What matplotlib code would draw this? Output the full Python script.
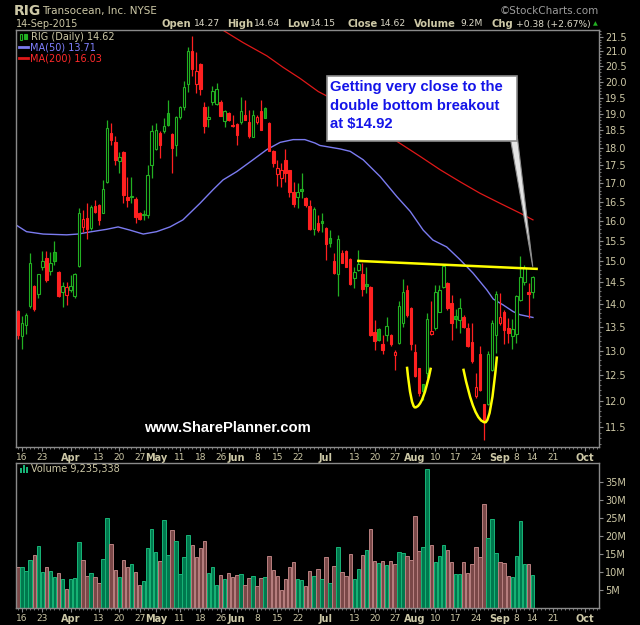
import numpy as np
import matplotlib
matplotlib.use("Agg")
import matplotlib.pyplot as plt
from matplotlib.patches import Rectangle, Polygon, PathPatch
from matplotlib.path import Path
from matplotlib.lines import Line2D
from matplotlib.ticker import FixedLocator, FuncFormatter, NullFormatter

W, H = 640, 625

# ---- RIG daily, 13-Mar-2015 .. 14-Sep-2015 ----
opens = [13.85, 13.30, 13.55, 13.97, 14.42, 14.23, 14.86, 15.09, 14.78, 15.22,
         14.75, 14.29, 14.21, 14.33, 14.20, 14.89, 15.84, 16.07, 15.81, 16.39,
         16.42, 16.22, 17.02, 18.41, 18.15, 17.62, 17.88, 16.63, 16.64, 16.57,
         16.22, 16.16, 16.16, 17.50, 17.96, 18.42, 18.47, 19.02, 18.40, 18.08,
         18.90, 19.21, 19.94, 21.02, 19.94, 20.58, 19.21, 18.84, 19.35, 19.31,
         19.35, 18.78, 19.02, 18.67, 18.70, 18.74, 18.97, 18.76, 18.32, 18.74,
         19.10, 19.18, 18.72, 17.91, 17.25, 17.13, 17.63, 17.35, 16.75, 16.62,
         16.84, 16.61, 16.39, 15.79, 15.94, 16.00, 15.83, 15.58, 15.01, 14.69,
         15.19, 15.25, 15.05, 14.60, 14.80, 14.69, 14.46, 14.40, 13.39, 13.45,
         13.13, 13.32, 13.34, 12.90, 13.16, 13.59, 14.33, 13.93, 12.98, 12.64,
         12.32, 12.54, 13.36, 13.48, 13.84, 14.40, 14.48, 14.04, 13.74, 13.66,
         13.73, 13.49, 13.18, 12.08, 12.94, 11.94, 11.94, 12.61, 13.32, 13.58,
         13.84, 13.49, 13.30, 13.36, 14.10, 14.52, 14.28, 14.27]
highs = [13.87, 13.74, 13.80, 15.21, 14.45, 14.71, 15.26, 15.26, 15.23, 15.49,
         14.76, 14.52, 14.50, 14.68, 14.73, 16.33, 16.29, 16.46, 16.42, 16.54,
         16.44, 17.09, 18.82, 18.72, 18.34, 17.86, 17.89, 17.18, 17.18, 16.64,
         16.24, 16.29, 17.50, 18.67, 18.72, 18.47, 18.87, 19.41, 18.42, 18.92,
         19.23, 20.01, 21.16, 21.52, 20.99, 20.60, 19.35, 19.25, 19.85, 19.96,
         19.41, 19.12, 19.05, 18.97, 18.72, 19.51, 19.41, 19.12, 19.12, 18.97,
         19.41, 19.21, 18.74, 17.92, 17.63, 17.57, 17.96, 17.37, 17.02, 17.00,
         17.29, 16.62, 16.54, 16.37, 16.15, 16.22, 15.84, 15.77, 15.21, 15.64,
         15.28, 15.28, 15.07, 14.87, 15.28, 14.95, 14.87, 14.41, 13.66, 13.48,
         13.34, 13.71, 13.35, 13.02, 14.07, 14.58, 14.45, 13.95, 13.13, 12.64,
         12.33, 13.80, 14.07, 14.45, 14.45, 14.91, 14.50, 14.22, 13.89, 14.14,
         13.76, 13.58, 13.58, 12.54, 13.09, 11.94, 12.99, 13.66, 14.31, 14.25,
         13.88, 13.69, 13.67, 14.22, 15.13, 14.92, 14.48, 14.64]
lows = [13.25, 13.03, 13.36, 13.91, 13.86, 14.14, 14.80, 14.52, 14.68, 14.91,
        14.16, 13.94, 13.99, 14.27, 14.14, 14.87, 15.73, 15.54, 15.77, 16.22,
        15.89, 16.20, 17.00, 18.08, 17.50, 17.27, 16.48, 16.37, 16.46, 15.94,
        16.03, 16.03, 16.07, 17.13, 17.92, 17.70, 18.42, 18.62, 17.27, 17.75,
        18.85, 19.12, 19.69, 20.17, 19.63, 19.58, 18.42, 18.60, 19.28, 19.28,
        18.92, 18.60, 18.78, 18.60, 18.08, 18.70, 18.80, 18.27, 18.32, 18.70,
        18.50, 18.86, 17.89, 17.46, 16.93, 16.91, 17.04, 16.64, 16.36, 16.33,
        16.60, 16.37, 15.77, 15.64, 15.73, 15.73, 15.03, 15.36, 14.71, 14.18,
        14.95, 14.86, 14.45, 14.37, 14.78, 14.18, 14.25, 13.30, 13.01, 13.20,
        12.92, 13.20, 13.10, 12.61, 13.13, 13.51, 13.73, 13.02, 12.46, 12.08,
        12.02, 12.44, 13.34, 13.44, 13.82, 14.37, 13.88, 13.23, 13.48, 13.37,
        13.48, 13.08, 12.74, 12.05, 12.18, 11.26, 11.92, 12.59, 12.95, 13.55,
        13.13, 13.16, 13.03, 13.17, 14.07, 14.45, 13.69, 14.15]
closes = [13.34, 13.59, 13.76, 14.95, 13.89, 14.69, 15.01, 14.55, 14.95, 15.01,
          14.20, 14.42, 14.39, 14.42, 14.69, 16.22, 16.04, 15.79, 16.36, 16.24,
          16.03, 16.84, 18.56, 18.23, 17.63, 17.72, 16.69, 16.54, 16.66, 16.10,
          16.06, 16.18, 17.23, 18.49, 18.50, 18.08, 18.64, 18.66, 17.98, 18.90,
          19.21, 19.83, 21.02, 20.40, 20.35, 19.77, 18.62, 18.90, 19.72, 19.77,
          18.94, 19.08, 18.80, 18.62, 18.37, 19.08, 18.82, 18.34, 18.96, 18.90,
          18.52, 18.87, 17.91, 17.57, 17.41, 17.37, 17.27, 16.77, 16.45, 16.77,
          16.79, 16.42, 15.79, 16.30, 15.76, 15.94, 15.42, 15.45, 14.73, 15.54,
          14.97, 14.87, 14.46, 14.74, 14.93, 14.35, 14.42, 13.34, 13.21, 13.23,
          13.02, 13.52, 13.13, 12.97, 13.97, 14.29, 13.76, 13.13, 12.48, 12.15,
          12.18, 13.67, 13.41, 14.29, 14.33, 14.89, 13.91, 13.58, 13.68, 13.91,
          13.50, 13.09, 12.78, 12.27, 12.21, 11.60, 12.94, 13.58, 14.23, 13.71,
          13.43, 13.37, 13.45, 14.20, 14.63, 14.85, 14.24, 14.62]
# G = close up from previous close, R = down
trend = ("RGGGRGGRGG" "RGRGGGRRGR" "RGGRRGRRGR" "RGGGGRGGRG" "GGGRRRRGGG"
         "RGRRRGRRGR" "RGRRRRRRRG" "GRRGRGRGRG" "RRRGGRGRRG" "RGRRGGRRRR"
         "GGRGGGRRGG" "RRRRRRGGGR" "RRGGGGRG")
volume_m = [11.3, 11.5, 10.2, 13.4, 14.8, 17.3, 10.1, 11.5, 10.4, 8.7,
            9.8, 8.0, 5.4, 8.1, 8.4, 18.4, 13.4, 9.0, 9.8, 8.7,
            7.0, 13.7, 25.1, 17.9, 10.5, 8.7, 13.4, 11.5, 12.3, 10.1,
            6.5, 7.6, 16.8, 22.0, 15.6, 13.1, 24.5, 14.8, 21.8, 18.7,
            9.5, 14.3, 20.4, 17.6, 14.3, 16.8, 18.7, 9.8, 11.5, 6.5,
            9.3, 8.1, 9.8, 8.7, 9.3, 9.5, 6.5, 8.4, 9.0, 6.2,
            8.4, 8.7, 14.5, 10.6, 9.0, 5.1, 8.1, 11.5, 12.9, 8.1,
            7.9, 6.2, 10.4, 9.0, 10.9, 8.1, 14.3, 7.0, 11.8, 17.0,
            10.1, 9.0, 15.1, 8.1, 10.9, 14.8, 16.2, 22.0, 13.1, 12.6,
            13.1, 12.0, 13.1, 12.3, 15.6, 15.4, 14.5, 13.4, 25.6, 15.9,
            17.0, 38.7, 17.6, 12.9, 14.5, 17.6, 16.2, 12.9, 9.5, 9.5,
            12.9, 9.8, 12.3, 17.0, 14.3, 29.0, 19.5, 24.8, 15.4, 12.9,
            12.6, 9.0, 8.7, 14.5, 24.3, 12.3, 12.3, 9.24]

ma50_idx = [-0.5, 2.1, 6.2, 12.0, 14.8, 18.2, 21.9, 24.7, 27.6, 30.9, 34.2, 37.5,
            40.7, 44.9, 48.1, 50.6, 54.0, 58.0, 61.4, 64.7, 67.9, 70.8, 73.3, 74.5,
            79.5, 82.0, 85.2, 89.4, 93.5, 96.8, 100.0, 102.4, 105.8, 109.1, 112.3,
            115.7, 117.3, 119.7, 122.2, 123.9, 127.1]
ma50_val = [15.90, 15.73, 15.67, 15.65, 15.67, 15.73, 15.79, 15.85, 15.77, 15.67, 15.73, 15.85,
            16.03, 16.46, 16.82, 17.09, 17.32, 17.65, 17.94, 18.15, 18.23, 18.23, 18.13, 18.06,
            17.96, 17.89, 17.65, 17.18, 16.64, 16.25, 15.77, 15.52, 15.35, 15.04, 14.72,
            14.33, 14.12, 13.99, 13.84, 13.77, 13.71]
ma200_idx = [50.5, 55.5, 61.4, 65.4, 69.6, 74.1, 76.2, 94.3, 99.2, 104.2, 109.1, 114.0, 119.0, 124.0, 127.1]
ma200_val = [21.73, 21.30, 20.85, 20.47, 20.11, 19.69, 19.55, 18.12, 17.75, 17.37, 17.04, 16.73, 16.46, 16.20, 16.03]

tick_idx = [1, 6, 13, 20, 25, 30, 34, 40, 45, 50, 54, 59, 64, 69, 76, 83, 88, 93,
            98, 103, 108, 113, 119, 123, 127, 132, 140]
tick_lbl = ["16", "23", "Apr", "13", "20", "27", "May", "11", "18", "26", "Jun", "8", "15", "22",
            "Jul", "13", "20", "27", "Aug", "10", "17", "24", "Sep", "8", "14", "21", "Oct"]
price_ticks = [11.5, 12.0, 12.5, 13.0, 13.5, 14.0, 14.5, 15.0, 15.5, 16.0, 16.5, 17.0,
               17.5, 18.0, 18.5, 19.0, 19.5, 20.0, 20.5, 21.0, 21.5]
vol_ticks = [5, 10, 15, 20, 25, 30, 35]

# hand drawn marks on the chart
neck_idx = [84.0, 128.0]
neck_val = [15.01, 14.82]
cups = [[(96.0, 12.67), (98.0, 11.87), (101.9, 12.65)],
        [(109.9, 12.63), (115.3, 11.59), (118.2, 12.88)]]
note = "Getting very close to the\ndouble bottom breakout\nat $14.92"

TAN = "#cdc8a6"
VAL = "#dcd9c8"
GRID = "#8a8a8a"
GREEN = "#22b022"
RED = "#ff2020"


def fx(px):
    return px / W


def fy(py):
    return 1 - py / H


fig = plt.figure(figsize=(W / 100, H / 100), dpi=100, facecolor="black")
ax = fig.add_axes([fx(16), fy(447), (599 - 16) / W, (447 - 30) / H], facecolor="black")
axv = fig.add_axes([fx(16), fy(608), (599 - 16) / W, (608 - 462.7) / H], facecolor="black")

# candles
x = np.arange(len(closes))
o, h, l, c = (np.array(v) for v in (opens, highs, lows, closes))
up = np.array([t == "G" for t in trend])
edge = np.where(up, GREEN, RED)
fill = np.where(c < o, np.where(up, "#109a10", RED), "black")
ax.vlines(x, l, h, colors=edge, linewidth=0.9, zorder=2)
ax.bar(x, np.abs(c - o), bottom=np.minimum(o, c), width=0.62, color=fill,
       edgecolor=edge, linewidth=0.8, zorder=3)

ax.plot(ma50_idx, ma50_val, color="#7b7bf0", lw=1.0, zorder=1)
ax.plot(ma200_idx, ma200_val, color="#e01818", lw=0.9, zorder=1)

# neckline + cups
ax.plot(neck_idx, neck_val, color="#ffff00", lw=1.8, zorder=4)
for (lx, ly), (bx, by), (rx, ry) in cups:
    verts = [(lx, ly), ((lx + bx) / 2, by), (bx, by), ((bx + rx) / 2, by), (rx, ry)]
    codes = [Path.MOVETO, Path.CURVE3, Path.CURVE3, Path.CURVE3, Path.CURVE3]
    ax.add_patch(PathPatch(Path(verts, codes), fill=False, edgecolor="#ffff00", lw=1.8, zorder=4))

# call-out
ax.add_patch(Polygon([(121.4, 18.35), (123.2, 18.35), (127.05, 14.87)], closed=True,
                     facecolor="#e4e4e4", edgecolor="#8c8c8c", lw=0.8, zorder=5))
ax.add_patch(Rectangle((0.534, 0.7338), 0.325, 0.1566, transform=ax.transAxes,
                       facecolor="white", edgecolor="#8c8c8c", lw=1.2, zorder=6))
ax.text(0.539, 0.879, note, transform=ax.transAxes, ha="left", va="top",
        fontsize=10.7, fontweight="bold", family="Liberation Sans", color="#1414e8",
        linespacing=1.4, zorder=7)

# volume
vcol = np.where(up, "#00784e", "#7a4848")
vedge = np.where(up, "#17b577", "#b98080")
axv.bar(x, volume_m, width=0.85, color=vcol, edgecolor=vedge, linewidth=0.7)

# axes cosmetics
ax.set_yscale("log")
ax.set_ylim(11.14, 21.73)
ax.yaxis.set_major_locator(FixedLocator(price_ticks))
ax.yaxis.set_major_formatter(FuncFormatter(lambda v, p: f"{v:.1f}"))
ax.yaxis.set_minor_locator(FixedLocator(np.arange(11.2, 21.75, 0.1)))
ax.yaxis.set_minor_formatter(NullFormatter())
axv.set_ylim(0, 40.5)
axv.yaxis.set_major_locator(FixedLocator(vol_ticks))
axv.yaxis.set_major_formatter(FuncFormatter(lambda v, p: f"{v:.0f}M"))

for a in (ax, axv):
    a.set_xlim(-0.5, 143.4)
    a.yaxis.tick_right()
    a.xaxis.set_major_locator(FixedLocator(tick_idx))
    a.set_xticklabels(tick_lbl)
    a.xaxis.set_minor_locator(FixedLocator(np.arange(0, 144, 1)))
    a.tick_params(axis="y", which="major", color=GRID, labelcolor=TAN, labelsize=7,
                  length=3, width=0.8, pad=1.5)
    a.tick_params(axis="x", which="major", color=GRID, labelcolor=TAN, labelsize=6.5,
                  length=3, width=0.8, pad=1.5)
    a.tick_params(axis="both", which="minor", color=GRID, length=1.5, width=0.6)
    for s in a.spines.values():
        s.set_color(GRID)
        s.set_linewidth(1.0)
    for t in a.get_xticklabels():
        if t.get_text().isalpha():
            t.set_fontweight("bold")
            t.set_fontsize(7)

# legend of the price panel
fig.add_artist(Rectangle((fx(19.5), fy(40)), 2.5 / W, 6 / H, facecolor="none", edgecolor=GREEN, lw=0.8))
fig.add_artist(Rectangle((fx(24), fy(39)), 2.5 / W, 5 / H, facecolor=GREEN, edgecolor=GREEN, lw=0.8))
fig.text(fx(31), fy(36.5), "RIG (Daily) 14.62", color=TAN, fontsize=7, va="center")
fig.add_artist(Line2D([fx(19), fx(28)], [fy(47.3)] * 2, color="#7b7bf0", lw=2))
fig.text(fx(29.5), fy(47.3), "MA(50) 13.71", color="#8080ff", fontsize=7, va="center")
fig.add_artist(Line2D([fx(19), fx(28)], [fy(58.3)] * 2, color="#e01818", lw=2))
fig.text(fx(29.5), fy(58.3), "MA(200) 16.03", color="#ff2a2a", fontsize=7, va="center")

# legend of the volume panel
for bx, bh in ((19.5, 5), (22.5, 8), (25.5, 6.5)):
    fig.add_artist(Rectangle((fx(bx), fy(473)), 2.2 / W, bh / H, facecolor="#17b577", edgecolor="none"))
fig.text(fx(31), fy(469), "Volume 9,235,338", color=TAN, fontsize=7, va="center")

# header
fig.text(fx(14), fy(11), "RIG", color=TAN, fontsize=10, fontweight="bold", va="center")
fig.text(fx(42), fy(11), "Transocean, Inc. NYSE", color=TAN, fontsize=7.5, va="center")
fig.text(fx(16), fy(24), "14-Sep-2015", color=TAN, fontsize=7, va="center")
fig.text(fx(599), fy(11), "\u00a9StockCharts.com", color="#9c9c9c", fontsize=7.5, va="center", ha="right")
head = [("Open", 162, True), ("14.27", 194, False), ("High", 227, True), ("14.64", 254, False),
        ("Low", 287, True), ("14.15", 310, False), ("Close", 347, True), ("14.62", 380, False),
        ("Volume", 414, True), ("9.2M", 460, False), ("Chg", 491, True), ("+0.38 (+2.67%)", 516, False)]
for txt, px, bold in head:
    fig.text(fx(px), fy(24), txt, color=TAN if bold else VAL, fontsize=7.2 if bold else 6.6,
             fontweight="bold" if bold else "normal", va="center")
fig.text(fx(593), fy(24), "\u25b2", color=GREEN, fontsize=4.5, va="center")

fig.text(fx(227.5), fy(427.5), "www.SharePlanner.com", color="white", fontsize=10.6,
         fontweight="bold", family="Liberation Sans", ha="center", va="center")

fig.savefig("out.png", dpi=100, facecolor="black")
